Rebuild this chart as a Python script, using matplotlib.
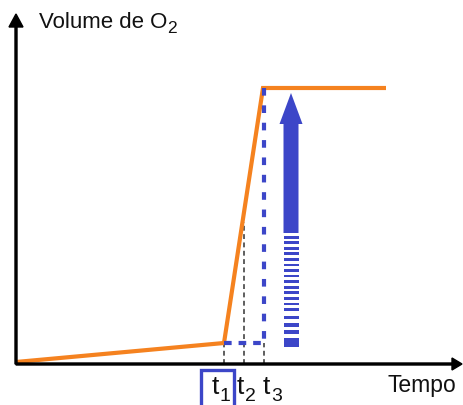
import matplotlib
matplotlib.use("Agg")
import matplotlib.pyplot as plt
from matplotlib.patches import Rectangle

plt.rcParams['font.family'] = ['Liberation Sans', 'DejaVu Sans']
plt.rcParams['lines.scale_dashes'] = False

# Oxygen volume curve (time, volume)
time_pts = [0, 208, 247, 370]
volume_pts = [2, 21, 276, 276]

# Marked instants on the time axis
t_marks = [208, 228, 248]
t_subs = ['1', '2', '3']
t_label_x = [196, 221, 247]
t_guide_tops = [21, 142, 21]

# Level of the plateau start and the rise marker
rise_start = 21
rise_end = 276

# Big upward arrow: position, start of solid shaft, tip
arrow_x = 275
arrow_solid_from = 131
arrow_tip = 271

# Stripes under the solid shaft (bottom, top)
stripe_bottoms = [125.3, 119.7, 114.0, 108.7, 103.3, 97.7, 92.0, 86.7, 81.0,
                  75.3, 70.0, 64.3, 58.7, 53.0, 44.7, 37.3, 30.3, 17.3]
stripe_tops = [128.3, 122.7, 117.0, 111.7, 106.0, 100.3, 94.7, 89.3, 83.7,
               78.0, 72.7, 67.0, 61.3, 55.7, 48.0, 40.7, 33.7, 25.7]

ORANGE = '#F5821F'
BLUE = '#3C46C8'
INK = '#111111'

W, H = 463, 405
fig = plt.figure(figsize=(W / 100, H / 100), dpi=100)
ax = fig.add_axes([16 / W, 41 / H, 446 / W, 350 / H])
ax.set_xlim(0, 446)
ax.set_ylim(0, 350)
ax.axis('off')

# Axes with arrowheads
ax.arrow(0, 0, 0, 350, width=2, head_width=14, head_length=13,
         length_includes_head=True, color='black', clip_on=False, zorder=5)
ax.arrow(0, 0, 446, 0, width=2, head_width=12, head_length=10,
         length_includes_head=True, color='black', clip_on=False, zorder=5)

# Curve
ax.plot(time_pts, volume_pts, color=ORANGE, lw=3.0, solid_joinstyle='miter',
        solid_capstyle='butt', zorder=2)

# Thin guides from the axis
for t, top in zip(t_marks, t_guide_tops):
    ax.plot([t, t], [0, top], color='#333333', lw=1.1, dashes=(3.5, 2.5),
            zorder=1)

# Blue dashed construction lines
ax.plot([t_marks[0], t_marks[2]], [rise_start, rise_start], color=BLUE,
        lw=3.0, dashes=(5.5, 5.0), zorder=3)
ax.plot([t_marks[2], t_marks[2]], [rise_end, rise_start], color=BLUE,
        lw=3.0, dashes=(5.5, 7.0), zorder=3)

# Upward arrow
ax.arrow(arrow_x, arrow_solid_from, 0, arrow_tip - arrow_solid_from,
         width=15, head_width=23, head_length=31, length_includes_head=True,
         color=BLUE, lw=0, zorder=3)
ax.bar([arrow_x] * len(stripe_bottoms),
       [t - b for b, t in zip(stripe_bottoms, stripe_tops)],
       bottom=stripe_bottoms, width=15, color=BLUE, lw=0, zorder=3)

# Axis titles
vol_txt = ax.text(23, 336, 'Volume de O', fontsize=16, va='baseline',
                  ha='left', color=INK)
ax.text(371, -28, 'Tempo', fontsize=16.5, va='baseline', ha='left',
        color=INK, clip_on=False)

fig.canvas.draw()
bb = vol_txt.get_window_extent()
x_sub = ax.transData.inverted().transform((bb.x1 - 0.5, 0))[0]
ax.text(x_sub, 331.5, '2', fontsize=12.5, va='baseline', ha='left',
        color=INK)

# Instant labels: letter followed by its subscript
for x, s in zip(t_label_x, t_subs):
    t_txt = ax.text(x, -30, 't', fontsize=19, va='baseline', ha='left',
                    color=INK, clip_on=False)
    fig.canvas.draw()
    tb = t_txt.get_window_extent()
    xs = ax.transData.inverted().transform((tb.x1 + 0.5, 0))[0]
    ax.text(xs, -37, s, fontsize=14, va='baseline', ha='left',
            color=INK, clip_on=False)

# Highlight box around the first instant
ax.add_patch(Rectangle((184.5, -60), 33, 54, fill=False, ec=BLUE, lw=2.4,
                       clip_on=False, zorder=4))

fig.savefig('out.png', dpi=100)
